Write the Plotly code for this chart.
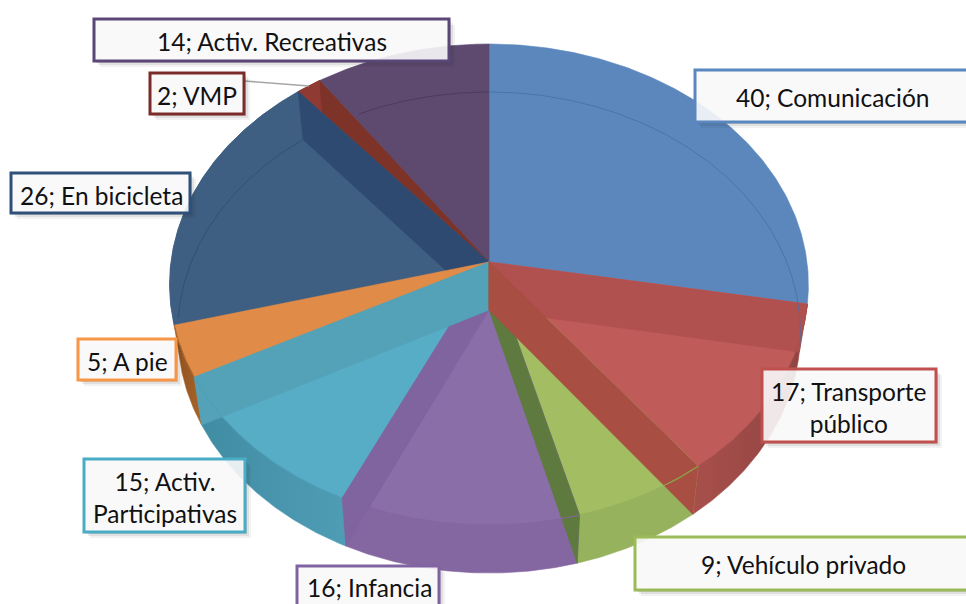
import numpy as np
import plotly.graph_objects as go

# Data
categories = ["Comunicación", "Transporte público", "Vehículo privado", "Infancia",
              "Activ. Participativas", "A pie", "En bicicleta", "VMP", "Activ. Recreativas"]
values = [40, 17, 9, 16, 15, 5, 26, 2, 14]
label_lines = ["40; Comunicación", "17; Transporte<br>público", "9; Vehículo privado", "16; Infancia",
               "15; Activ.<br>Participativas", "5; A pie", "26; En bicicleta", "2; VMP", "14; Activ. Recreativas"]

# Styles
top_colors = ["#5b87bd", "#bf5c59", "#a3bd62", "#8a6ea8", "#57acc6", "#e08c48", "#3f5f82", "#8f3a33", "#5d4a6e"]
wall_colors = ["#4d74a3", "#a84f4b", "#96b25c", "#8466a0", "#4f9db5", "#a9642a", "#35506f", "#7d3029", "#503f60"]
wall_dark = ["#4d74a3", "#8f4442", "#96b25c", "#8466a0", "#3f8ba2", "#8c5020", "#35506f", "#7d3029", "#503f60"]
border_colors = ["#5b87c0", "#c0504d", "#9bbb59", "#8064a2", "#4bacc6", "#f79646", "#2f5078", "#7b2c2a", "#5a4778"]
boxes = [(695, 70, 980, 122), (762, 369, 936, 442), (635, 537, 980, 590), (297, 566, 439, 620),
         (84, 459, 245, 532), (78, 339, 176, 380), (11, 173, 190, 213), (150, 73, 244, 114), (94, 19, 449, 61)]
text_centers = [(833, 97), (849, 407), (803, 564), (369, 587), (165, 497), (127, 361), (101, 195), (197, 95), (272, 41)]

# Projection of the tilted disc
CX, TOP_CY, BOT_CY = 489, 262, 310
RX_TOP, RX_BOT, RY, K = 318, 310, 238.4, 0.0936


def project(theta_deg, rx, cy, r=1.0):
    t = np.radians(theta_deg)
    u, v = np.sin(t) * r, np.cos(t) * r
    f = 1 / (1 + K * v)
    return CX + rx * u * f, cy - RY * v * f


def arc(a, b, rx, cy):
    return project(np.linspace(a, b, max(int(abs(b - a) * 2), 2)), rx, cy)


def poly(fig, xs, ys, color, gradient=None):
    kw = dict(fillcolor=color) if gradient is None else dict(
        fillgradient=dict(type="horizontal", colorscale=[[0, gradient[0]], [1, gradient[1]]]))
    fig.add_trace(go.Scatter(x=xs, y=ys, mode="lines", fill="toself",
                             line=dict(width=0.6, color=color), hoverinfo="skip", showlegend=False, **kw))


def rim(fig, a, b, rx, cy, color, width=1):
    x, y = arc(a, b, rx, cy)
    fig.add_trace(go.Scatter(x=x, y=y, mode="lines", line=dict(width=width, color=color),
                             hoverinfo="skip", showlegend=False))


cum = np.concatenate([[0], np.cumsum(values)]) / sum(values) * 360
fig = go.Figure()


def top_face(i):
    x, y = arc(cum[i], cum[i + 1], RX_TOP, TOP_CY)
    poly(fig, np.r_[CX, x, CX], np.r_[TOP_CY, y, TOP_CY], top_colors[i])


def radial(angle, color):
    xt, yt = project(angle, RX_TOP, TOP_CY)
    xb, yb = project(angle, RX_BOT, BOT_CY)
    poly(fig, [CX, xt, xb, CX, CX], [TOP_CY, yt, yb, BOT_CY, TOP_CY], color)


# Top faces
for i in range(len(values)):
    top_face(i)

# Outer walls at the front
for i in range(1, 6):
    xt, yt = arc(cum[i], cum[i + 1], RX_TOP, TOP_CY)
    xb, yb = arc(cum[i], cum[i + 1], RX_BOT, BOT_CY)
    left, right = (wall_dark[i], wall_colors[i]) if i >= 4 else (wall_colors[i], wall_dark[i])
    poly(fig, np.r_[xt, xb[::-1], xt[0]], np.r_[yt, yb[::-1], yt[0]], wall_colors[i], (left, right))

# Radial walls seen through the faces, back to front
radial(cum[8], "#7e3329")
top_face(6)
xv0, yv0 = project(cum[7], RX_TOP, TOP_CY)
xv1, yv1 = project(cum[8], RX_TOP, TOP_CY)
poly(fig, [xv0, xv1, xv1, xv0], [yv0, yv1, yv1 + 30, yv0], top_colors[7])
rim(fig, cum[7], cum[8], RX_TOP, TOP_CY, top_colors[7], 1)
radial(cum[7], "#2f4a70")
top_face(3)
top_face(4)
top_face(5)
radial(cum[4], "#7f64a0")
radial(cum[5], "#54a2b8")
radial(cum[3], "#5f7a3f")
radial(cum[1], "#b0504f")
radial(cum[2], "#a84e42")

# Rims
for i in range(1, 6):
    rim(fig, cum[i], cum[i + 1], RX_TOP, TOP_CY, wall_colors[i], 1)
rim(fig, 333, 360, RX_BOT, BOT_CY, "#45395a", 0.8)
rim(fig, 0, cum[1], RX_BOT, BOT_CY, "#48709f", 0.8)
rim(fig, 268, cum[7], RX_BOT, BOT_CY, "#2f4a70", 0.8)
rim(fig, cum[2], cum[2] + 6, RX_TOP, TOP_CY, "#8f9a45", 1.2)

# Leader line for VMP
lx, ly = project((cum[7] + cum[8]) / 2, RX_TOP, TOP_CY)
shapes = [dict(type="line", x0=boxes[7][2], y0=81, x1=lx, y1=ly, line=dict(color="#a6a6a6", width=1.6), layer="above")]

annotations = []
for i in range(len(values)):
    x0, y0, x1, y1 = boxes[i]
    for off, alpha in ((6, 0.06), (4, 0.09), (2, 0.12)):
        path = (f"M{x1},{y0 + off} L{x1 + off},{y0 + off} L{x1 + off},{y1 + off} "
                f"L{x0 + off},{y1 + off} L{x0 + off},{y1} L{x1},{y1} Z")
        shapes.append(dict(type="path", path=path, fillcolor=f"rgba(40,40,40,{alpha})",
                           line=dict(width=0), layer="above"))
    shapes.append(dict(type="rect", x0=x0, y0=y0, x1=x1, y1=y1, fillcolor="rgba(248,248,250,0.90)",
                       line=dict(color=border_colors[i], width=3), layer="above"))
    annotations.append(dict(x=text_centers[i][0], y=text_centers[i][1], text=label_lines[i], showarrow=False,
                            xref="x", yref="y", align="center", font=dict(family="Lato", size=24.5, color="#111111")))

fig.update_layout(width=966, height=604, autosize=False, margin=dict(l=0, r=0, t=0, b=0),
                  paper_bgcolor="white", plot_bgcolor="white", showlegend=False,
                  xaxis=dict(range=[0, 966], visible=False, fixedrange=True),
                  yaxis=dict(range=[604, 0], visible=False, fixedrange=True),
                  shapes=shapes, annotations=annotations)

fig.write_html("out.html", config={"displayModeBar": False},
               post_script="document.body.style.margin='0';document.body.style.overflow='hidden';")
